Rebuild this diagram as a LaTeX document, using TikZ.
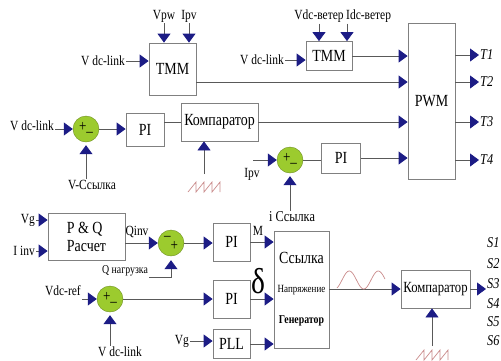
\documentclass[tikz,border=0pt]{standalone}
\usepackage{fontspec}
\setmainfont{Liberation Serif}[FakeStretch=0.82]
\usetikzlibrary{arrows.meta, positioning, calc}

\definecolor{arrowblue}{HTML}{1C1C85}
\definecolor{sumgreen}{HTML}{9CCB2E}
\definecolor{wavered}{HTML}{C98A8A}

\begin{document}
\begin{tikzpicture}[
    x=1pt, y=-1pt,
    font=\fontsize{14}{15}\selectfont,
    blk/.style={draw=black!50, fill=white, line width=0.8pt, inner sep=1pt,
                font=\fontsize{17}{18}\selectfont},
    sumnode/.style={circle, draw=sumgreen!70!black, fill=sumgreen,
                    minimum size=26pt, inner sep=0pt,
                    font=\fontsize{16}{16}\selectfont},
    lbl/.style={inner sep=1pt},
    tlbl/.style={inner sep=1pt, anchor=west, font=\fontsize{15}{15}\selectfont\itshape},
    sig/.style={-{Triangle[length=9pt,width=13pt,color=arrowblue]},
                draw=black!65, line width=0.8pt},
    wire/.style={draw=black!65, line width=0.8pt},
    wave/.style={draw=wavered, line width=0.7pt},
]
\useasboundingbox (0,0) rectangle (501,360);

% --- Row 1: the two TMM blocks and the PWM ---
\node[blk, minimum width=47pt, minimum height=52pt] (tmmA) at (172.5,69) {TMM};
\node[blk, minimum width=46pt, minimum height=29pt] (tmmB) at (329,56) {TMM};
\node[blk, minimum width=47pt, minimum height=156pt] (pwm) at (431.5,101) {PWM};

\node[lbl] (vpw) at (164,16) {Vpw};
\node[lbl] (ipvA) at (189,16) {Ipv};
\node[lbl, anchor=east] (vdcA) at (126,61) {V dc-link};
\node[lbl] (vdcw) at (319,16) {Vdc-ветер};
\node[lbl, anchor=west] (idcw) at (345,16) {Idc-ветер};
\node[lbl, anchor=east] (vdcB) at (285,60) {V dc-link};
\coordinate (idcIn) at ([xshift=2pt]idcw.south west);
\coordinate (tmmAout) at ([yshift=-13pt]tmmA.east);

% --- Row 2: voltage loop, PI and comparator ---
\node[sumnode] (sumA) at (86,129) {+\raisebox{-5pt}{\textendash}};
\node[blk, minimum width=38pt, minimum height=33pt] (piA) at (145,129.5) {PI};
\node[blk, minimum width=77pt, minimum height=38pt] (compA) at (219.5,122) {Компаратор};
\node[lbl, anchor=east] (vdcC) at (55,126) {V dc-link};
\node[lbl] (vref) at (92,185) {V-Ссылка};
\coordinate (sawA) at (204,174);

% --- Row 3: current loop ---
\node[sumnode] (sumC) at (290,160) {+\raisebox{-5pt}{\textendash}};
\node[blk, minimum width=39pt, minimum height=30pt] (piC) at (341,158) {PI};
\coordinate (ipvIn) at (253,160);
\node[lbl] (ipvB) at (252,174) {Ipv};
\node[lbl, font=\fontsize{15}{16}\selectfont] (iref) at (292,217) {i Ссылка};

% --- PWM outputs ---
\node[tlbl] (tA) at (479,55) {T1};
\node[tlbl] (tB) at (479,82) {T2};
\node[tlbl] (tC) at (479,122) {T3};
\node[tlbl] (tD) at (479,160) {T4};

% --- Lower part: P&Q, PI loops, PLL and reference generator ---
\node[blk, minimum width=77pt, minimum height=47pt, align=left] (pq) at (86.5,237)
    {P \& Q\\Расчет};
\node[sumnode] (sumB) at (171,243) {\raisebox{3pt}{\textendash}\raisebox{-7pt}{+}};
\node[blk, minimum width=37pt, minimum height=38pt] (piB) at (231.5,242) {PI};
\node[sumnode] (sumD) at (110,299) {+\raisebox{-5pt}{\textendash}};
\node[blk, minimum width=37pt, minimum height=38pt] (piD) at (231.5,299) {PI};
\node[blk, minimum width=37pt, minimum height=29pt] (pll) at (231.5,344) {PLL};
\node[blk, minimum width=55pt, minimum height=117pt, align=center] (gen) at (301.5,289.5) {
    {\fontsize{17}{18}\selectfont Ссылка}\\[11pt]
    {\fontsize{11}{12}\selectfont Напряжение}\\[13pt]
    {\fontsize{12}{13}\selectfont\bfseries Генератор}
};
\node[blk, minimum width=69pt, minimum height=38pt, font=\fontsize{15.5}{16}\selectfont]
    (compB) at (435.5,289) {Компаратор};

\node[lbl, anchor=east] (vgA) at (36,220) {Vg};
\node[lbl, anchor=east] (iinv) at (36,251) {I inv};
\node[lbl] (qinv) at (137,232) {Qinv};
\node[lbl, font=\fontsize{12}{13}\selectfont] (qload) at (125,271) {Q нагрузка};
\node[lbl, anchor=east] (vdcref) at (82,291) {Vdc-ref};
\node[lbl] (vdcD) at (120,352) {V dc-link};
\node[lbl, anchor=east] (vgB) at (190,341) {Vg};
\node[lbl] (mlbl) at (258,231) {M};
\node[lbl, font=\fontsize{36}{36}\selectfont] (delta) at (258,281) {δ};
\coordinate (sOut) at (486,289);
\coordinate (sawB) at (432,346);

\node[tlbl] (sA) at (486,243) {S1};
\node[tlbl] (sB) at (486,264) {S2};
\node[tlbl] (sC) at (486,284) {S3};
\node[tlbl] (sD) at (486,304) {S4};
\node[tlbl] (sE) at (486,322) {S5};
\node[tlbl] (sF) at (486,341) {S6};

% --- connections, upper part ---
\draw[sig] (vpw.south) -- (vpw.south |- tmmA.north);
\draw[sig] (ipvA.south) -- (ipvA.south |- tmmA.north);
\draw[sig] (vdcA.east) -- (vdcA.east -| tmmA.west);
\draw[sig] (vdcw.south) -- (vdcw.south |- tmmB.north);
\draw[sig] (idcIn) -- (idcIn |- tmmB.north);
\draw[sig] (vdcB.east) -- (vdcB.east -| tmmB.west);
\draw[sig] (tmmB.east) -- (tmmB.east -| pwm.west);
\draw[sig] (tmmAout) -- (tmmAout -| pwm.west);
\draw[sig] (vdcC.east |- sumA.west) -- (sumA.west);
\draw[sig, shorten >=3pt] (sumA.south |- vref.north) -- (sumA.south);
\draw[sig] (sumA.east) -- (sumA.east -| piA.west);
\draw[wire] (piA.east |- compA.west) -- (compA.west);
\draw[sig] (compA.east) -- (compA.east -| pwm.west);
\draw[sig] (sawA) -- (sawA |- compA.south);
\draw[sig] (ipvIn) -- (sumC.west);
\draw[sig, shorten >=3pt] (sumC.south |- iref.north) -- (sumC.south);
\draw[wire] (sumC.east) -- (sumC.east -| piC.west);
\draw[sig] (piC.east) -- (piC.east -| pwm.west);
\draw[sig] (pwm.east |- tA.west) -- (tA.west);
\draw[sig] (pwm.east |- tB.west) -- (tB.west);
\draw[sig] (pwm.east |- tC.west) -- (tC.west);
\draw[sig] (pwm.east |- tD.west) -- (tD.west);

% --- connections, lower part ---
\draw[sig] (vgA.east) -- (vgA.east -| pq.west);
\draw[sig] (iinv.east) -- (iinv.east -| pq.west);
\draw[sig] (pq.east |- sumB.west) -- (sumB.west);
\draw[sig, shorten >=4pt] (qload.south east) -| (sumB.south);
\draw[sig] (sumB.east) -- (sumB.east -| piB.west);
\draw[sig] (piB.east) -- (piB.east -| gen.west);
\draw[sig] (vdcref.east |- sumD.west) -- (sumD.west);
\draw[sig, shorten >=3pt] (sumD.south |- vdcD.north) -- (sumD.south);
\draw[sig] (sumD.east) -- (sumD.east -| piD.west);
\draw[sig] (piD.east) -- (piD.east -| gen.west);
\draw[sig] (vgB.east) -- (vgB.east -| pll.west);
\draw[sig] (pll.east) -- (pll.east -| gen.west);
\draw[sig] (gen.east |- compB.west) -- (compB.west);
\draw[sig] (compB.east) -- (sOut);
\draw[sig] (sawB) -- (sawB |- compB.south);

% --- carrier and reference waves ---
\draw[wave] (sawA) ++(-16,18) -- ++(8,-10) -- ++(0,10) -- ++(8,-10) -- ++(0,10)
    -- ++(8,-10) -- ++(0,10) -- ++(8,-10) -- ++(0,10);
\draw[wave] (sawB) ++(-16,14) -- ++(8,-10) -- ++(0,10) -- ++(8,-10) -- ++(0,10)
    -- ++(8,-10) -- ++(0,10) -- ++(8,-10) -- ++(0,10);
\draw[wave] plot[domain=337:385, samples=50] (\x, {280 - 9*sin((\x-342)*360/29)});

\end{tikzpicture}
\end{document}
